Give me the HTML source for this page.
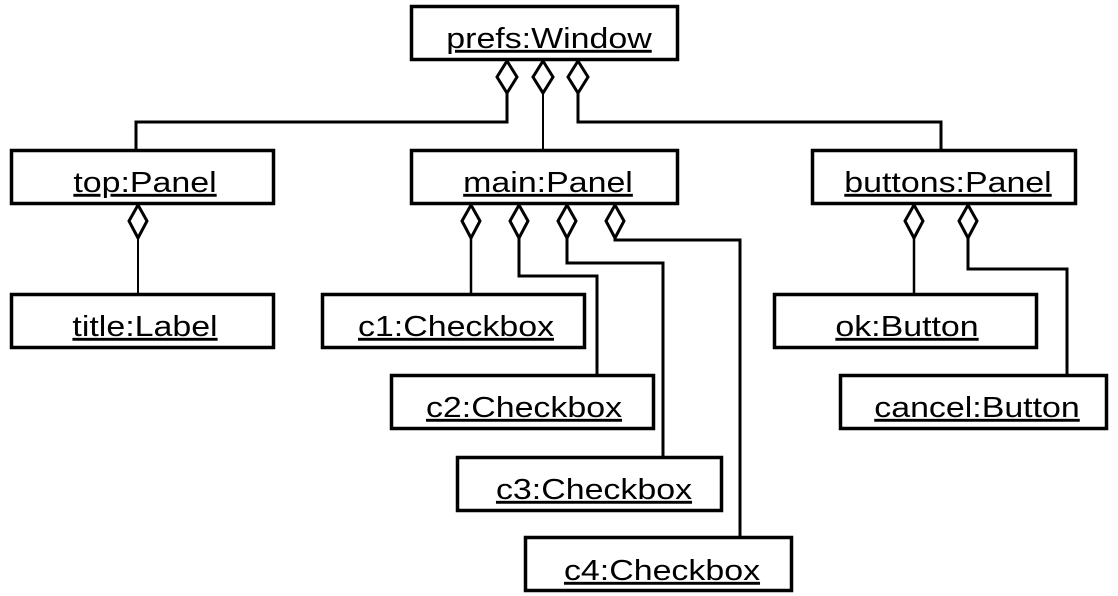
<!DOCTYPE html>
<html><head><style>
html,body{margin:0;padding:0;background:#fff;}
svg{display:block;}
text{font-family:"Liberation Sans",Arial,sans-serif;font-size:29px;text-decoration:underline;fill:#000;}
</style></head><body>
<svg width="1118" height="596" viewBox="0 0 1118 596" xmlns="http://www.w3.org/2000/svg">
<g fill="none" stroke="#000" stroke-width="3">
<polyline points="507,93 507,122 136,122 136,150"/>
<polyline points="543,93 543,150" stroke-width="2"/>
<polyline points="578,93 578,122 941,122 941,150"/>
<polyline points="138,238 138,294" stroke-width="2"/>
<polyline points="471,238 471,294" stroke-width="2.5"/>
<polyline points="519,238 519,276 597,276 597,375"/>
<polyline points="567,238 567,263 663,263 663,456"/>
<polyline points="615,238 615,240 740,240 740,537"/>
<polyline points="914,238 914,294" stroke-width="2.5"/>
<polyline points="968,238 968,269 1067,269 1067,375"/>
</g>
<g fill="#fff" stroke="#000" stroke-width="3">
<polygon points="507,61 517,77 507,93 497,77"/>
<polygon points="543,61 553,77 543,93 533,77"/>
<polygon points="578,61 588,77 578,93 568,77"/>
<polygon points="138,205 147,221 138,238 129,221"/>
<polygon points="471,205 480,221 471,238 462,221"/>
<polygon points="519,205 528,221 519,238 510,221"/>
<polygon points="567,205 576,221 567,238 558,221"/>
<polygon points="615,205 624,221 615,238 606,221"/>
<polygon points="914,205 923,221 914,238 905,221"/>
<polygon points="968,205 977,221 968,238 959,221"/>
</g>
<g fill="#fff" stroke="#000" stroke-width="3.5">
<rect x="411.5" y="6.5" width="266" height="53"/>
<rect x="11.5" y="150.5" width="262" height="53"/>
<rect x="411.5" y="150.5" width="266" height="53"/>
<rect x="812.5" y="150.5" width="263" height="53"/>
<rect x="11.5" y="294.5" width="262" height="53"/>
<rect x="322.5" y="294.5" width="262" height="53"/>
<rect x="391.5" y="375.5" width="262" height="53"/>
<rect x="457.5" y="457.5" width="264" height="53"/>
<rect x="525.5" y="537.5" width="266" height="53"/>
<rect x="774.5" y="294.5" width="262" height="53"/>
<rect x="840.5" y="375.5" width="266" height="53"/>
</g>
<g text-anchor="middle">
<g transform="translate(549,48) scale(1.17,1)"><text>prefs:Window</text></g>
<g transform="translate(145,192) scale(1.17,1)"><text>top:Panel</text></g>
<g transform="translate(548,192) scale(1.17,1)"><text>main:Panel</text></g>
<g transform="translate(948,192) scale(1.17,1)"><text>buttons:Panel</text></g>
<g transform="translate(145,336) scale(1.17,1)"><text>title:Label</text></g>
<g transform="translate(456,336) scale(1.17,1)"><text>c1:Checkbox</text></g>
<g transform="translate(524,417) scale(1.17,1)"><text>c2:Checkbox</text></g>
<g transform="translate(594,499) scale(1.17,1)"><text>c3:Checkbox</text></g>
<g transform="translate(662,580) scale(1.17,1)"><text>c4:Checkbox</text></g>
<g transform="translate(907,336) scale(1.17,1)"><text>ok:Button</text></g>
<g transform="translate(977,417) scale(1.17,1)"><text>cancel:Button</text></g>
</g>
</svg>
</body></html>
